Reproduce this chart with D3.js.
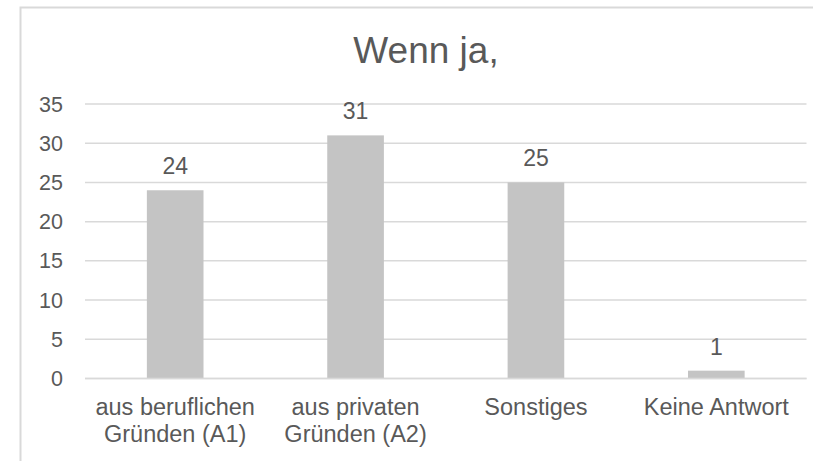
<!DOCTYPE html>
<html>
<head>
<meta charset="utf-8">
<script src="https://cdn.jsdelivr.net/npm/d3@7"></script>
<style>
  html, body { margin: 0; padding: 0; background: #fff; }
  svg { display: block; }
  text { font-family: "Liberation Sans", Arial, sans-serif; fill: #595959; }
</style>
</head>
<body>
<svg id="chart" width="813" height="461"></svg>
<script>
const title = "Wenn ja,";
const categories = [
  ["aus beruflichen", "Gründen (A1)"],
  ["aus privaten", "Gründen (A2)"],
  ["Sonstiges"],
  ["Keine Antwort"]
];
const values = [24, 31, 25, 1];
const yTicks = [0, 5, 10, 15, 20, 25, 30, 35];

const svg = d3.select("#chart");
const plot = { left: 85, right: 806.5, top: 104, bottom: 378.5 };

// chart frame
svg.append("rect")
  .attr("x", 20.5).attr("y", 7.5)
  .attr("width", 900).attr("height", 500)
  .attr("fill", "none").attr("stroke", "#d9d9d9").attr("stroke-width", 2);

const x = d3.scaleBand()
  .domain(d3.range(categories.length))
  .range([plot.left, plot.right])
  .padding(0);
const y = d3.scaleLinear().domain([0, 35]).range([plot.bottom, plot.top]);

// gridlines
svg.append("g").selectAll("line").data(yTicks).join("line")
  .attr("x1", plot.left).attr("x2", plot.right)
  .attr("y1", d => y(d)).attr("y2", d => y(d))
  .attr("stroke", "#d9d9d9").attr("stroke-width", 1.5);

// y tick labels
svg.append("g").selectAll("text").data(yTicks).join("text")
  .attr("x", 63).attr("y", d => y(d))
  .attr("dy", "0.35em")
  .attr("text-anchor", "end")
  .attr("font-size", 21.5)
  .text(d => d);

// bars
const barW = x.bandwidth() * 0.314;
svg.append("g").selectAll("rect").data(values).join("rect")
  .attr("x", (d, i) => x(i) + x.bandwidth() / 2 - barW / 2)
  .attr("y", d => y(d))
  .attr("width", barW)
  .attr("height", d => y(0) - y(d))
  .attr("fill", "#c4c4c4");

// axis baseline
svg.append("line")
  .attr("x1", plot.left).attr("x2", plot.right)
  .attr("y1", y(0)).attr("y2", y(0))
  .attr("stroke", "#d9d9d9").attr("stroke-width", 1.5);

// data labels
svg.append("g").selectAll("text").data(values).join("text")
  .attr("x", (d, i) => x(i) + x.bandwidth() / 2)
  .attr("y", d => y(d) - 16)
  .attr("text-anchor", "middle")
  .attr("font-size", 23)
  .text(d => d);

// category labels
const cat = svg.append("g").selectAll("text").data(categories).join("text")
  .attr("x", (d, i) => x(i) + x.bandwidth() / 2)
  .attr("y", 415)
  .attr("text-anchor", "middle")
  .attr("font-size", 23.5);
cat.selectAll("tspan").data(d => d).join("tspan")
  .attr("x", function () { return d3.select(this.parentNode).attr("x"); })
  .attr("dy", (d, j) => j === 0 ? 0 : 27)
  .text(d => d);

// title
svg.append("text")
  .attr("x", 426).attr("y", 63)
  .attr("text-anchor", "middle")
  .attr("font-size", 37)
  .text(title);
</script>
</body>
</html>
